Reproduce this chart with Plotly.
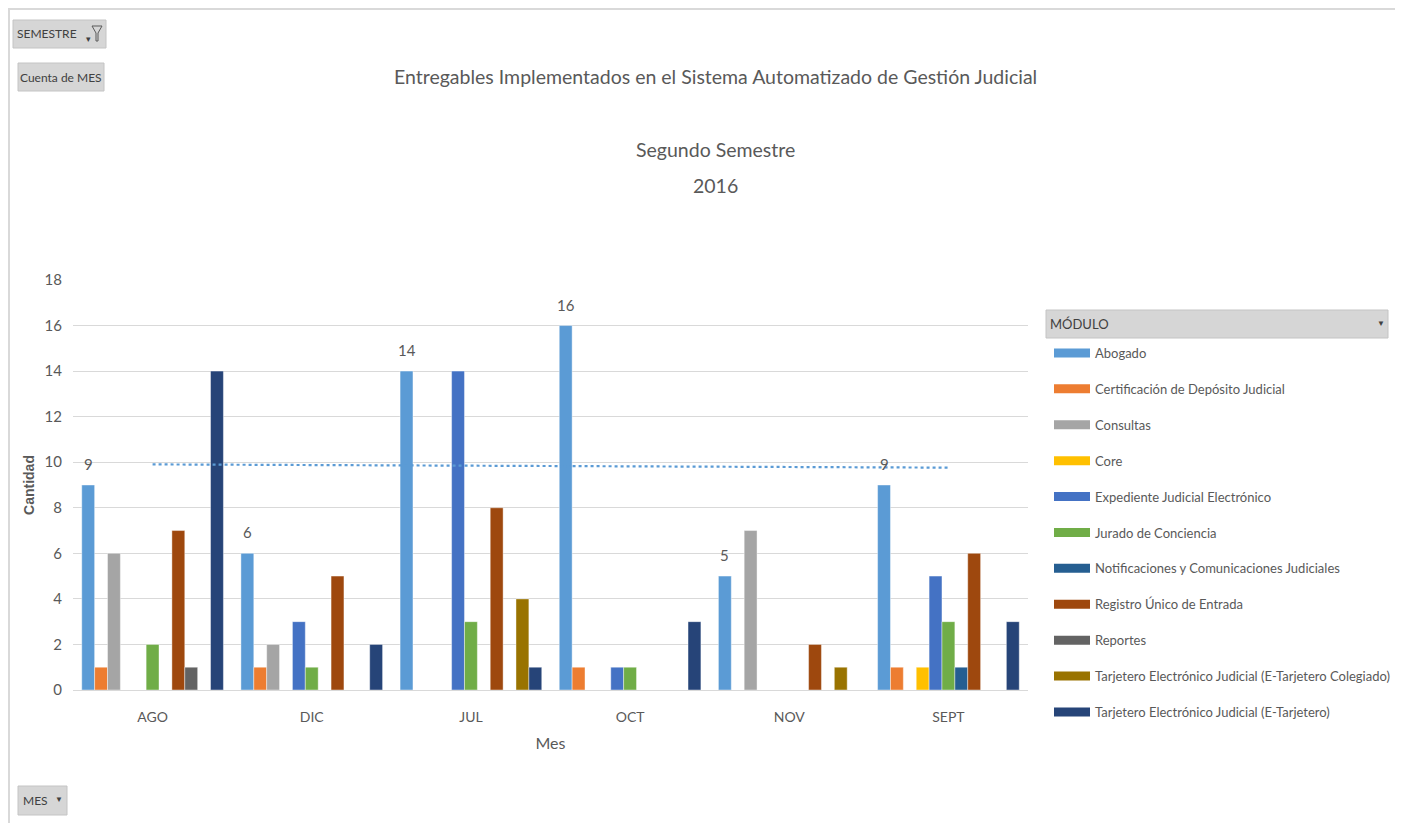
import numpy as np
import plotly.graph_objects as go

months = ["AGO", "DIC", "JUL", "OCT", "NOV", "SEPT"]
series_names = [
    "Abogado",
    "Certificación de Depósito Judicial",
    "Consultas",
    "Core",
    "Expediente Judicial Electrónico",
    "Jurado de Conciencia",
    "Notificaciones y Comunicaciones Judiciales",
    "Registro Único de Entrada",
    "Reportes",
    "Tarjetero Electrónico Judicial (E-Tarjetero Colegiado)",
    "Tarjetero Electrónico Judicial (E-Tarjetero)",
]
abogado = [9, 6, 14, 16, 5, 9]
certificacion = [1, 1, 0, 1, 0, 1]
consultas = [6, 2, 0, 0, 7, 0]
core = [0, 0, 0, 0, 0, 1]
expediente = [0, 3, 14, 1, 0, 5]
jurado = [2, 1, 3, 1, 0, 3]
notificaciones = [0, 0, 0, 0, 0, 1]
registro = [7, 5, 8, 0, 2, 6]
reportes = [1, 0, 0, 0, 0, 0]
tarj_colegiado = [0, 0, 4, 0, 1, 0]
tarjetero = [14, 2, 1, 3, 0, 3]
values = [abogado, certificacion, consultas, core, expediente, jurado,
          notificaciones, registro, reportes, tarj_colegiado, tarjetero]
colors = ["#5B9BD5", "#ED7D31", "#A5A5A5", "#FFC000", "#4472C4", "#70AD47",
          "#255E91", "#9E480E", "#636363", "#997300", "#264478"]
y_ticks = [0, 2, 4, 6, 8, 10, 12, 14, 16, 18]

FONT = "Lato, Roboto, sans-serif"
TXT = "#595959"

# page is rendered with an 8px body margin -> figure is shifted by OFF
OFF = 8
PW, PH = 1403, 823
W, H = PW - OFF, PH - OFF
# plot area in page pixels
L, R, T, B = 73, 1028, 280, 690
BARGAP = 0.11


def pxx(px):
    return (px - L) / (R - L)


def pxy(py):
    return (B - py) / (B - T)


fig = go.Figure()
for i, (name, vals, col) in enumerate(zip(series_names, values, colors)):
    fig.add_trace(go.Bar(x=months, y=[v if v else None for v in vals], name=name,
                         marker=dict(color=col, line=dict(width=0.6, color="rgba(255,255,255,0.7)")),
                         showlegend=False, hoverinfo="x+y+name"))

# linear trendline of Abogado
xi = np.arange(1, len(months) + 1)
slope, icpt = np.polyfit(xi, abogado, 1)
trend = slope * xi + icpt
fig.add_trace(go.Scatter(x=months, y=trend, mode="lines", showlegend=False,
                         line=dict(color="#5B9BD5", width=2.2, dash="dot"),
                         hoverinfo="skip"))

# legend entries
for i, (name, col) in enumerate(zip(series_names, colors)):
    fig.add_trace(go.Scatter(x=[None], y=[None], mode="lines", name=name,
                             legendgroup=f"g{i}",
                             line=dict(color=col, width=9)))

shapes = []
annotations = []

# data labels for Abogado (first bar of each group)
slot = (R - L) / len(months) * (1 - BARGAP) / len(series_names)
abog_shift = -(len(series_names) - 1) / 2 * slot
for m, v in zip(months, abogado):
    annotations.append(dict(x=m, y=v, xref="x", yref="y", text=str(v), showarrow=False,
                            xshift=abog_shift, yshift=21, yanchor="middle",
                            font=dict(family=FONT, size=15, color=TXT)))


def button(x0, y0, x1, y1):
    shapes.append(dict(type="rect", xref="paper", yref="paper",
                       x0=pxx(x0), x1=pxx(x1), y0=pxy(y1), y1=pxy(y0),
                       fillcolor="#D6D6D6", line=dict(color="#C4C4C4", width=1),
                       layer="above"))


def label(px, py, text, size=12, anchor="left", color="#404040"):
    annotations.append(dict(xref="paper", yref="paper", x=pxx(px), y=pxy(py),
                            text=text, showarrow=False, xanchor=anchor, yanchor="middle",
                            font=dict(family=FONT, size=size, color=color)))


# outer border
shapes.append(dict(type="rect", xref="paper", yref="paper",
                   x0=pxx(9), x1=pxx(1397), y0=pxy(830), y1=pxy(9),
                   line=dict(color="#D9D9D9", width=2), fillcolor="rgba(0,0,0,0)"))

button(13, 20, 106, 48)
label(15, 34, "SEMESTRE", 12)
label(88, 39, "▾", 9, "center")
shapes.append(dict(type="path", xref="paper", yref="paper",
                   path=f"M {pxx(92)},{pxy(26)} L {pxx(102)},{pxy(26)} L {pxx(98)},{pxy(33)} "
                        f"L {pxx(98)},{pxy(41)} L {pxx(96)},{pxy(41)} L {pxx(96)},{pxy(33)} Z",
                   line=dict(color="#595959", width=1), fillcolor="rgba(0,0,0,0)"))
button(18, 63, 104, 91)
label(61, 77, "Cuenta de MES", 12, "center")
button(18, 786, 67, 815)
label(21, 800, "MES", 12)
label(59, 799, "▼", 8, "center")
button(1046, 310, 1388, 338)
label(1048, 324, "MÓDULO", 13)
label(1381, 323, "▼", 8, "center")

# titles
label(715, 76, "Entregables Implementados en el Sistema Automatizado de Gestión Judicial", 19.5, "center", TXT)
label(715, 150, "Segundo Semestre", 19.5, "center", TXT)
label(715, 185, "2016", 19.5, "center", TXT)

fig.update_layout(
    width=W, height=H,
    margin=dict(l=L - OFF, r=PW - R, t=T - OFF, b=PH - B, autoexpand=False),
    paper_bgcolor="white", plot_bgcolor="white",
    barmode="group", bargap=BARGAP, bargroupgap=0,
    font=dict(family=FONT, color=TXT, size=14),
    shapes=shapes, annotations=annotations,
    legend=dict(xref="container", yref="container", x=(1049 - OFF) / W, y=1 - (338 - OFF) / H,
                xanchor="left", yanchor="top", tracegroupgap=16, itemwidth=36,
                font=dict(family=FONT, size=13, color=TXT), itemclick=False,
                bgcolor="rgba(0,0,0,0)"),
    xaxis=dict(type="category", categoryorder="array", categoryarray=months,
               showgrid=False, showline=True, linecolor="#D9D9D9", ticks="",
               ticklabelstandoff=14, tickfont=dict(family=FONT, size=14, color=TXT),
               title=dict(text="Mes", standoff=14, font=dict(family=FONT, size=16, color=TXT))),
    yaxis=dict(range=[0, 18], tickvals=y_ticks, showgrid=True, gridcolor="#D9D9D9",
               zeroline=False, ticks="", ticklabelstandoff=10,
               tickfont=dict(family=FONT, size=15, color=TXT),
               title=dict(text="<b>Cantidad</b>", standoff=6,
                          font=dict(family="Liberation Sans, Arial, sans-serif", size=14, color=TXT))),
)

fig.write_html("out.html")
